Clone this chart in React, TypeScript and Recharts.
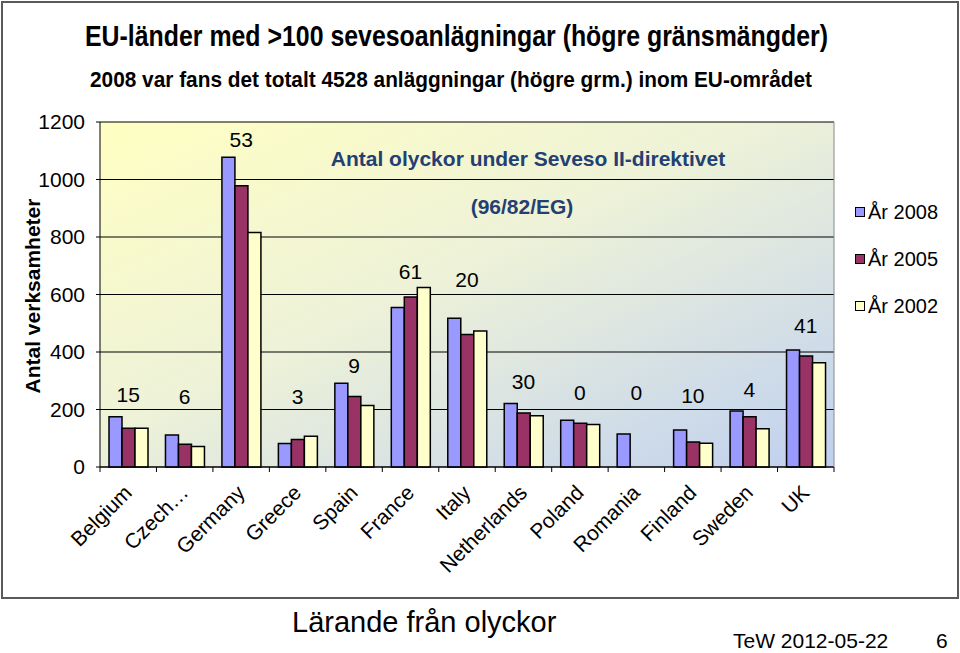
import React from "react"
import { ComposedChart, Bar, Line, XAxis, YAxis, CartesianGrid, LabelList } from "recharts"

// EU countries with >100 Seveso establishments (upper tier)
const countries = [
  "Belgium", "Czech…", "Germany", "Greece", "Spain", "France", "Italy",
  "Netherlands", "Poland", "Romania", "Finland", "Sweden", "UK",
]
const year2008 = [175, 111, 1077, 82, 291, 555, 517, 221, 163, 115, 129, 195, 407]
const year2005 = [135, 79, 978, 96, 245, 591, 461, 188, 152, null, 87, 175, 386]
const year2002 = [135, 71, 816, 107, 214, 624, 473, 178, 148, null, 83, 133, 363]

// accidents under Seveso II, and the height (in axis units) where each count sits
const accidents = [15, 6, 53, 3, 9, 61, 20, 30, 0, 0, 10, 4, 41]
const accidentLabelY = [251, 244, 1138, 244, 352, 679, 651, 296, 258, 258, 247, 271, 491]

const yTicks = [0, 200, 400, 600, 800, 1000, 1200]

const series = [
  { key: "y2008", name: "År 2008", color: "#9999FF" },
  { key: "y2005", name: "År 2005", color: "#993366" },
  { key: "y2002", name: "År 2002", color: "#FFFFCC" },
]

const data = countries.map((country, i) => ({
  country,
  y2008: year2008[i],
  y2005: year2005[i],
  y2002: year2002[i],
  accidents: accidents[i],
  labelY: accidentLabelY[i],
}))

const FONT = "'Liberation Sans', Arial, sans-serif"
const NARROW = "'Liberation Sans Narrow', 'Liberation Sans', Arial, sans-serif"

const CountryTick = (props: any) => {
  const { x, y, payload, index } = props
  const half = payload?.offset ?? 0
  const last = index === countries.length - 1
  return (
    <g>
      <line x1={x - half} y1={y - 5} x2={x - half} y2={y} stroke="#000" />
      {last && <line x1={x + half} y1={y - 5} x2={x + half} y2={y} stroke="#000" />}
      <text
        x={x + 5}
        y={y + 22}
        transform={`rotate(-45, ${x + 5}, ${y + 22})`}
        textAnchor="end"
        fontSize={21}
        fontFamily={FONT}
        fill="#000"
      >
        {payload.value}
      </text>
    </g>
  )
}

export default function App() {
  return (
    <div style={{ position: "absolute", left: 0, top: 0, width: 960, height: 653, background: "#fff", fontFamily: FONT }}>
      {/* slide frame */}
      <div style={{ position: "absolute", left: 1, top: 1, width: 954, height: 594, border: "2px solid #5a5a5a" }} />

      <div style={{ position: "absolute", left: 0, top: 0 }}>
        <ComposedChart
          width={960}
          height={600}
          data={data}
          margin={{ top: 122, right: 125, bottom: 0, left: 0 }}
          barCategoryGap={9}
          barGap={0}
        >
          <defs>
            <linearGradient id="plotBg" x1="0" y1="0" x2="1" y2="1">
              <stop offset="0%" stopColor="#FFFFC2" />
              <stop offset="45%" stopColor="#EEF2D8" />
              <stop offset="100%" stopColor="#BFD0F0" />
            </linearGradient>
          </defs>
          <CartesianGrid vertical={false} stroke="#000" fill="url(#plotBg)" fillOpacity={1} />
          <XAxis
            dataKey="country"
            height={133}
            interval={0}
            tickLine={false}
            tickSize={5}
            tickMargin={0}
            axisLine={{ stroke: "#000" }}
            tick={<CountryTick />}
          />
          <YAxis
            width={100}
            domain={[0, 1200]}
            ticks={yTicks}
            interval={0}
            tickSize={4}
            tickMargin={11}
            axisLine={{ stroke: "#000" }}
            tickLine={{ stroke: "#000" }}
            tick={{ fontSize: 21, fill: "#000", fontFamily: FONT }}
          />
          <YAxis
            yAxisId="edge"
            orientation="right"
            width={1}
            domain={[0, 1200]}
            tick={false}
            tickLine={false}
            axisLine={{ stroke: "#8a8a8a" }}
          />
          {series.map((s) => (
            <Bar
              key={s.key}
              dataKey={s.key}
              name={s.name}
              fill={s.color}
              stroke="#000"
              strokeWidth={1.5}
              isAnimationActive={false}
            />
          ))}
          <Line
            dataKey="labelY"
            stroke="none"
            dot={false}
            activeDot={false}
            legendType="none"
            isAnimationActive={false}
          >
            <LabelList
              dataKey="accidents"
              position="center"
              fontSize={21}
              fill="#000"
              fontFamily={FONT}
            />
          </Line>
        </ComposedChart>
      </div>

      {/* titles and axis title */}
      <svg width={960} height={600} style={{ position: "absolute", left: 0, top: 0, pointerEvents: "none" }}>
        <text x={85} y={46} fontSize={29} fontWeight="bold" fontFamily={NARROW} textLength={743} lengthAdjust="spacingAndGlyphs">
          EU-länder med &gt;100 sevesoanlägningar (högre gränsmängder)
        </text>
        <text x={90} y={87} fontSize={22} fontWeight="bold" fontFamily={NARROW} textLength={722} lengthAdjust="spacingAndGlyphs">
          2008 var fans det totalt 4528 anläggningar (högre grm.) inom EU-området
        </text>
        <text x={528} y={166} textAnchor="middle" fontSize={21} fontWeight="bold" fontFamily={FONT} fill="#243F72">
          Antal olyckor under Seveso II-direktivet
        </text>
        <text x={522} y={214} textAnchor="middle" fontSize={21} fontWeight="bold" fontFamily={FONT} fill="#243F72">
          (96/82/EG)
        </text>
        <text
          transform="translate(40, 296) rotate(-90)"
          textAnchor="middle"
          fontSize={21}
          fontWeight="bold"
          fontFamily={FONT}
        >
          Antal verksamheter
        </text>
      </svg>

      {/* legend */}
      <div style={{ position: "absolute", left: 855, top: 200 }}>
        {series.map((s) => (
          <div key={s.key} style={{ display: "flex", alignItems: "center", height: 24, marginBottom: 23 }}>
            <span style={{ width: 8, height: 8, background: s.color, border: "1px solid #000", marginRight: 3 }} />
            <span style={{ fontSize: 20, color: "#000" }}>{s.name}</span>
          </div>
        ))}
      </div>

      {/* slide footer */}
      <div style={{ position: "absolute", left: 292, top: 605, fontSize: 29, lineHeight: "34px" }}>Lärande från olyckor</div>
      <div style={{ position: "absolute", left: 733, top: 629, fontSize: 21, lineHeight: "24px" }}>TeW 2012-05-22</div>
      <div style={{ position: "absolute", left: 936, top: 629, fontSize: 21, lineHeight: "24px" }}>6</div>
    </div>
  )
}
